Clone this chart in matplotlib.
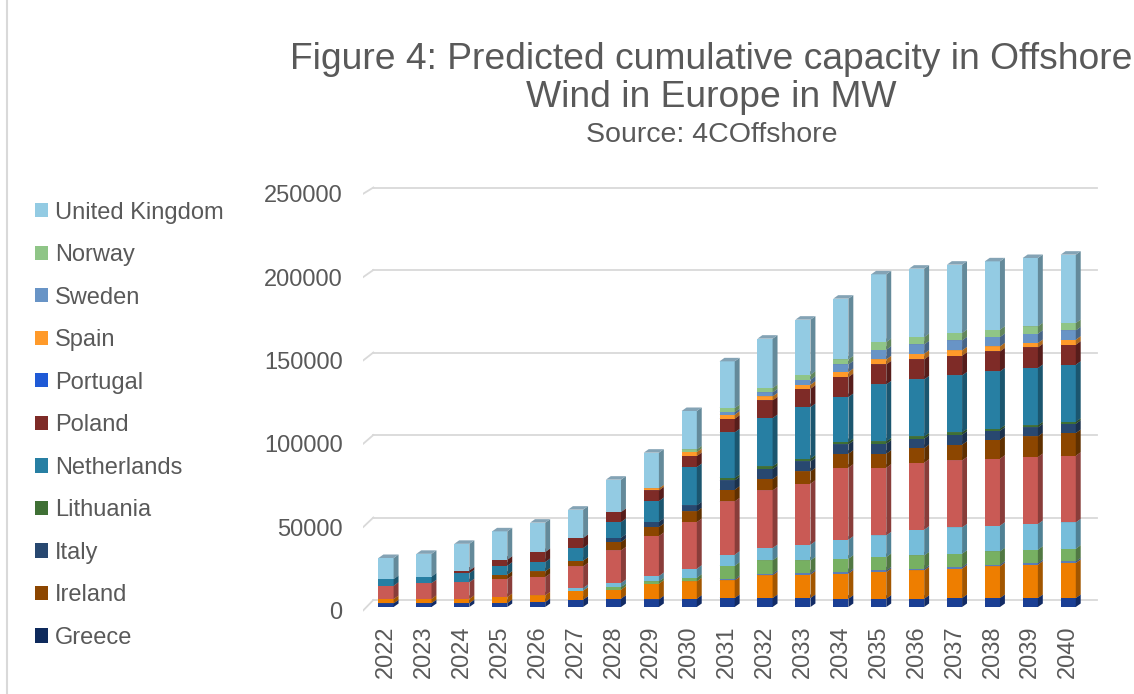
import matplotlib.pyplot as plt
from matplotlib.patches import Polygon, Patch
from matplotlib.lines import Line2D
from matplotlib.colors import to_rgb

plt.rcParams['font.family'] = ['Liberation Sans', 'DejaVu Sans']

years = list(range(2022, 2041))

# cumulative offshore wind capacity (MW), bottom of the stack first
belgium     = [2200, 2300, 2300, 2400, 3000, 4400, 5000, 4600, 5000, 5400, 5400, 5400, 5000, 5000, 5000, 5400, 5400, 5400, 5400]
denmark     = [2600, 2600, 2600, 3600, 4000, 5400, 5400, 9400, 10400, 10600, 13600, 14000, 15000, 16000, 17000, 17600, 19000, 20000, 21000]
estonia     = [0, 0, 0, 0, 0, 0, 0, 0, 0, 800, 1000, 1000, 1000, 1000, 1000, 1000, 1000, 1000, 1000]
finland     = [0, 0, 0, 0, 0, 0, 1600, 1400, 2200, 8000, 8000, 7600, 8000, 8000, 8000, 8000, 8000, 8000, 7600]
france      = [0, 0, 0, 0, 0, 1600, 2400, 3200, 5400, 6600, 7400, 9400, 11400, 13000, 15400, 15800, 15400, 15400, 15800]
germany     = [8000, 9400, 10000, 10800, 11000, 13000, 19600, 24000, 28000, 32000, 34600, 36600, 43200, 40600, 40200, 40200, 40200, 40200, 40000]
greece      = [0] * 19
ireland     = [0, 0, 0, 2600, 3400, 3400, 5000, 5400, 6400, 7000, 6800, 7400, 8400, 8400, 8800, 9400, 11400, 12400, 13600]
italy       = [0, 0, 0, 0, 0, 0, 2600, 3200, 3600, 5600, 6000, 6000, 5600, 6000, 5600, 6000, 5400, 5400, 5600]
lithuania   = [0, 0, 0, 0, 0, 0, 0, 0, 0, 1400, 1600, 1600, 1400, 1400, 1400, 1400, 1200, 1200, 1200]
netherlands = [4000, 4000, 5400, 5400, 5600, 7600, 9400, 12400, 23000, 27400, 29000, 31000, 27000, 34200, 34200, 34200, 34400, 34400, 34200]
poland      = [0, 0, 1600, 3600, 6000, 6000, 6000, 6400, 6600, 8200, 10600, 11000, 12000, 12000, 12000, 11800, 12000, 12400, 12000]
portugal    = [0] * 19
spain       = [0, 0, 0, 0, 0, 0, 0, 1200, 2400, 2400, 2400, 2400, 3000, 3000, 3400, 3200, 3000, 2600, 3000]
sweden      = [0, 0, 0, 0, 0, 0, 0, 0, 0, 1600, 2400, 3000, 4600, 5800, 5600, 6000, 5600, 5600, 5600]
norway      = [0, 0, 0, 0, 0, 0, 0, 0, 1600, 2400, 2600, 3000, 3000, 4600, 4400, 4400, 4400, 4400, 4400]
united_kingdom = [12600, 13600, 16000, 17000, 17600, 17000, 19400, 21400, 23000, 28000, 29600, 33000, 36400, 40600, 41000, 41000, 41000, 41000, 41000]

series = [
    ("Belgium", belgium, "#1B3F94"),
    ("Denmark", denmark, "#EE7E00"),
    ("Estonia", estonia, "#5B7DB5"),
    ("Finland", finland, "#77B062"),
    ("France", france, "#76BDDA"),
    ("Germany", germany, "#C95A55"),
    ("Greece", greece, "#0E2A5C"),
    ("Ireland", ireland, "#8C4600"),
    ("Italy", italy, "#284870"),
    ("Lithuania", lithuania, "#3F7035"),
    ("Netherlands", netherlands, "#277FA3"),
    ("Poland", poland, "#7E2B27"),
    ("Portugal", portugal, "#1F5AD6"),
    ("Spain", spain, "#FF9A2A"),
    ("Sweden", sweden, "#6894C6"),
    ("Norway", norway, "#8FC587"),
    ("United Kingdom", united_kingdom, "#93CBE3"),
]
legend_names = ["United Kingdom", "Norway", "Sweden", "Spain", "Portugal", "Poland",
                "Netherlands", "Lithuania", "Italy", "Ireland", "Greece"]

grey_text = "#595959"
grid_col = "#D9D9D9"


def shade(c, f):
    r, g, b = to_rgb(c)
    return (r * f, g * f, b * f)


def top_face(c):
    r, g, b = to_rgb(c)
    return (r * 0.55 + 0.2, g * 0.55 + 0.2, b * 0.55 + 0.22)


fig = plt.figure(figsize=(11.34, 6.94), dpi=100)
ax = fig.add_axes([363.3 / 1134, 77 / 694, 740.9 / 1134, 440 / 694])
ax.set_xlim(-0.6, 18.95)
ax.set_ylim(-6000, 258000)

# depth of the pseudo-3d boxes
bar_w = 0.4
dx = 0.13
dy = 2100

# back wall gridlines with the short diagonal on the left
grid_vals = [0, 50000, 100000, 150000, 200000, 250000]
wall_x0 = -0.6 + 0.265
for g in grid_vals:
    wy = g * 0.99 + 4200
    ax.plot([wall_x0, 18.76], [wy, wy], color=grid_col, lw=1.3, zorder=0)
    ax.plot([-0.6, wall_x0], [g - 2000, wy], color=grid_col, lw=1.3, zorder=0)

x = list(range(len(years)))
bottoms = [0] * len(years)
for name, vals, col in series:
    ax.bar(x, vals, width=bar_w, bottom=bottoms, color=col, zorder=2, linewidth=0)
    for i, v in enumerate(vals):
        if v <= 0:
            continue
        b = bottoms[i]
        xl = i - bar_w / 2
        xr = i + bar_w / 2
        side = Polygon([(xr, b), (xr + dx, b + dy), (xr + dx, b + v + dy), (xr, b + v)],
                       closed=True, facecolor=shade(col, 0.68), edgecolor='none', zorder=2)
        top = Polygon([(xl, b + v), (xr, b + v), (xr + dx, b + v + dy), (xl + dx, b + v + dy)],
                      closed=True, facecolor=top_face(col), edgecolor='none', zorder=2)
        ax.add_patch(side)
        ax.add_patch(top)
    bottoms = [bottoms[i] + vals[i] for i in range(len(years))]

for s in ax.spines.values():
    s.set_visible(False)
ax.set_yticks([g - 2200 for g in grid_vals])
ax.set_yticklabels([str(g) for g in grid_vals])
ax.set_xticks(x)
ax.set_xticklabels([str(y) for y in years], rotation=90)
ax.tick_params(axis='y', length=0, pad=14.8, labelsize=17, labelcolor=grey_text)
ax.tick_params(axis='x', length=0, pad=6, labelsize=17, labelcolor=grey_text)

fig.text(0.627, 1 - 107 / 694, "Figure 4: Predicted cumulative capacity in Offshore\nWind in Europe in MW",
         ha='center', va='baseline', fontsize=26.8, color=grey_text, linespacing=1.12)
fig.text(0.628, 1 - 142 / 694, "Source: 4COffshore", ha='center', va='baseline',
         fontsize=20.5, color=grey_text)

colors = {n: c for n, _, c in series}
handles = [Patch(facecolor=colors[n], edgecolor='none', label=n) for n in legend_names]
fig.legend(handles=handles, loc='upper left', bbox_to_anchor=(35 / 1134, 1 - 201.5 / 694),
           frameon=False, fontsize=17, labelcolor=grey_text, handlelength=0.55, handleheight=0.55,
           handletextpad=0.3, labelspacing=0.87, borderpad=0, borderaxespad=0)

# chart area border on the left
fig.add_artist(Line2D([7 / 1134, 7 / 1134], [0, 1], color=grid_col, lw=1.5))

fig.savefig("out.png", dpi=100)
